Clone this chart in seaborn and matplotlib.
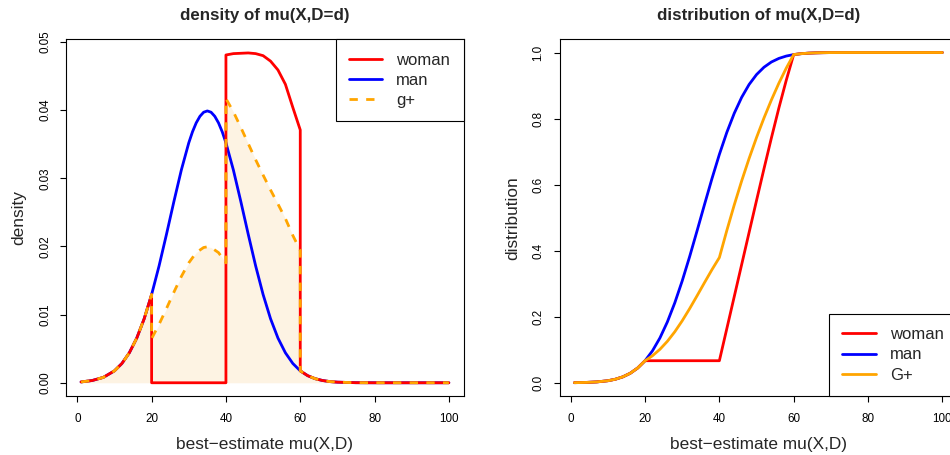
import numpy as np
import pandas as pd
import matplotlib
matplotlib.use("Agg")
import matplotlib.pyplot as plt
from matplotlib.lines import Line2D
import seaborn as sns

# ---------------- data ----------------
# density panel
x_man_dens = [1, 4, 7, 10, 12, 14, 16, 18, 20, 22, 24, 26, 28, 30, 31, 32, 33, 34, 35, 36, 37,
              38, 39, 40, 42, 44, 46, 48, 50, 52, 54, 56, 58, 60, 62, 64, 66, 68, 70, 75, 80,
              90, 100]
man_dens = [0.00012, 0.00033, 0.00079, 0.00175, 0.00283, 0.0044, 0.00656, 0.0094, 0.01295,
            0.01714, 0.02179, 0.02661, 0.03123, 0.03521, 0.03683, 0.03814, 0.0391, 0.0397,
            0.03989, 0.0397, 0.0391, 0.03814, 0.03683, 0.03521, 0.03123, 0.02661, 0.02179,
            0.01714, 0.01295, 0.0094, 0.00656, 0.0044, 0.00283, 0.00175, 0.00104, 0.0006,
            0.00033, 0.00017, 0.00009, 0.00001, 0.0, 0.0, 0.0]

x_woman_dens = [1, 4, 7, 10, 12, 14, 16, 18, 20, 20, 40, 40, 42, 44, 46, 48, 50, 52, 54, 56,
                58, 60, 60, 62, 64, 66, 68, 70, 75, 80, 90, 100]
woman_dens = [0.00012, 0.00033, 0.00079, 0.00175, 0.00283, 0.0044, 0.00656, 0.0094, 0.01295,
              0.0, 0.0, 0.0481, 0.0483, 0.04835, 0.0484, 0.0483, 0.048, 0.0472, 0.0459,
              0.0438, 0.0404, 0.0371, 0.00175, 0.00104, 0.0006, 0.00033, 0.00017, 0.00009,
              0.00001, 0.0, 0.0, 0.0]

x_gplus_dens = [1, 4, 7, 10, 12, 14, 16, 18, 20, 20, 22, 24, 26, 28, 30, 32, 34, 35, 36, 38,
                40, 40, 42, 44, 46, 48, 50, 52, 54, 56, 58, 60, 60, 62, 64, 66, 68, 70, 75,
                80, 90, 100]
gplus_dens = [0.00012, 0.00033, 0.00079, 0.00175, 0.00283, 0.0044, 0.00656, 0.0094, 0.01295,
              0.00648, 0.00857, 0.0109, 0.0133, 0.0156, 0.0176, 0.0191, 0.01985, 0.01995,
              0.01985, 0.0191, 0.0176, 0.0417, 0.03977, 0.03748, 0.0351, 0.03272, 0.03048,
              0.0283, 0.02623, 0.0241, 0.02162, 0.01943, 0.00175, 0.00104, 0.0006, 0.00033,
              0.00017, 0.00009, 0.00001, 0.0, 0.0, 0.0]

# distribution panel
x_cdf = [1, 4, 7, 10, 12, 14, 16, 18, 20, 22, 24, 26, 28, 30, 32, 34, 36, 38, 40,
         42, 44, 46, 48, 50, 52, 54, 56, 58, 60, 62, 64, 66, 68, 70, 75, 80, 90, 100]
man_cdf = [0.0003, 0.001, 0.0026, 0.0062, 0.0107, 0.0179, 0.0287, 0.0446, 0.0668,
           0.0968, 0.1357, 0.1841, 0.242, 0.3085, 0.3821, 0.4602, 0.5398, 0.6179, 0.6915,
           0.758, 0.8159, 0.8643, 0.9032, 0.9332, 0.9554, 0.9713, 0.9821, 0.9893, 0.9938,
           0.9965, 0.9981, 0.999, 0.9995, 0.9998, 1.0, 1.0, 1.0, 1.0]
woman_cdf = [0.0003, 0.001, 0.0026, 0.0062, 0.0107, 0.0179, 0.0287, 0.0446, 0.0668,
             0.0668, 0.0668, 0.0668, 0.0668, 0.0668, 0.0668, 0.0668, 0.0668, 0.0668, 0.0668,
             0.1637, 0.2608, 0.358, 0.4552, 0.552, 0.6477, 0.7413, 0.8314, 0.916, 0.9938,
             0.9965, 0.9981, 0.999, 0.9995, 0.9998, 1.0, 1.0, 1.0, 1.0]
gplus_cdf = [0.0003, 0.001, 0.0026, 0.0062, 0.0107, 0.0179, 0.0287, 0.0446, 0.0668,
             0.0818, 0.1013, 0.1255, 0.1544, 0.1877, 0.2245, 0.2635, 0.3033, 0.3424, 0.3792,
             0.4609, 0.5384, 0.6112, 0.6792, 0.7426, 0.8016, 0.8563, 0.9068, 0.9527, 0.9938,
             0.9965, 0.9981, 0.999, 0.9995, 0.9998, 1.0, 1.0, 1.0, 1.0]

x_ticks = [0, 20, 40, 60, 80, 100]
dens_ticks = [0.00, 0.01, 0.02, 0.03, 0.04, 0.05]
dens_tick_labels = ["0.00", "0.01", "0.02", "0.03", "0.04", "0.05"]
cdf_ticks = [0.0, 0.2, 0.4, 0.6, 0.8, 1.0]
cdf_tick_labels = ["0.0", "0.2", "0.4", "0.6", "0.8", "1.0"]

# ---------------- style ----------------
sns.set_theme(style="ticks")
plt.rcParams['font.family'] = ['Liberation Sans', 'DejaVu Sans']

RED, BLUE, ORANGE = "#FF0000", "#0000FF", "#FFA500"
FILL = "#FDF3E3"
LW = 2.0
DASH = [3, 3]
LAB_FS = 12.4
TITLE_FS = 12.2
TICK_FS = 8.4
LEG_FS = 12

fig = plt.figure(figsize=(9.5, 4.55), dpi=100)
axL = fig.add_axes([0.0698, 0.1297, 0.4182, 0.7839])
axR = fig.add_axes([0.5892, 0.1297, 0.4182, 0.7839])


def style_axes(ax, yticks, ylabels, title, ylabel):
    for s in ax.spines.values():
        s.set_visible(True)
        s.set_color("black")
        s.set_linewidth(0.8)
    ax.set_xlim(-2.96, 103.96)
    ax.set_xticks(x_ticks)
    ax.set_xticklabels([str(t) for t in x_ticks])
    ax.set_yticks(yticks)
    ax.set_yticklabels(ylabels, rotation=90, va="center")
    ax.tick_params(axis="both", direction="out", length=4, width=0.8, color="black",
                   labelsize=TICK_FS, labelcolor="black")
    ax.tick_params(axis="x", pad=8.5)
    ax.tick_params(axis="y", pad=7)
    ax.grid(False)
    ax.set_facecolor("white")
    ax.set_title(title, fontsize=TITLE_FS, fontweight="bold", pad=14)
    ax.set_xlabel("best\u2212estimate mu(X,D)", fontsize=LAB_FS)
    ax.set_ylabel(ylabel, fontsize=LAB_FS)
    ax.xaxis.set_label_coords(0.5, -0.1486)
    ax.xaxis.label.set_va("baseline")
    ax.yaxis.set_label_coords(-0.1077, 0.5)
    ax.yaxis.label.set_va("baseline")


def make_legend(ax, handles, labels, loc):
    leg = ax.legend(handles, labels, loc=loc, borderaxespad=0,
                    fancybox=False, frameon=True, framealpha=1, edgecolor="black",
                    fontsize=LEG_FS, handlelength=2.0, handletextpad=0.85,
                    labelspacing=0.31, borderpad=0.8)
    leg.get_frame().set_linewidth(0.8)
    return leg


# ---- left: density ----
axL.fill_between(x_gplus_dens, gplus_dens, 0, color=FILL, linewidth=0, zorder=1)
sns.lineplot(x=x_man_dens, y=man_dens, ax=axL, sort=False, estimator=None,
             color=BLUE, linewidth=LW, zorder=2)
sns.lineplot(x=x_woman_dens, y=woman_dens, ax=axL, sort=False, estimator=None,
             color=RED, linewidth=LW, zorder=3)
sns.lineplot(x=x_gplus_dens, y=gplus_dens, ax=axL, sort=False, estimator=None,
             color=ORANGE, linewidth=LW, zorder=4)
axL.lines[-1].set_dashes(DASH)
style_axes(axL, dens_ticks, dens_tick_labels, "density of mu(X,D=d)", "density")
axL.set_ylim(-0.00194, 0.0504)

hL = [Line2D([], [], color=RED, lw=LW), Line2D([], [], color=BLUE, lw=LW),
      Line2D([], [], color=ORANGE, lw=LW, dashes=DASH)]
make_legend(axL, hL, ["woman", "man", "g+"], "upper right")

# ---- right: distribution ----
sns.lineplot(x=x_cdf, y=man_cdf, ax=axR, sort=False, estimator=None,
             color=BLUE, linewidth=LW, zorder=2)
sns.lineplot(x=x_cdf, y=woman_cdf, ax=axR, sort=False, estimator=None,
             color=RED, linewidth=LW, zorder=3)
sns.lineplot(x=x_cdf, y=gplus_cdf, ax=axR, sort=False, estimator=None,
             color=ORANGE, linewidth=LW, zorder=4)
style_axes(axR, cdf_ticks, cdf_tick_labels, "distribution of mu(X,D=d)", "distribution")
axR.set_ylim(-0.04, 1.04)

hR = [Line2D([], [], color=RED, lw=LW), Line2D([], [], color=BLUE, lw=LW),
      Line2D([], [], color=ORANGE, lw=LW)]
make_legend(axR, hR, ["woman", "man", "G+"], "lower right")

fig.savefig("out.png", dpi=100, facecolor="white")
